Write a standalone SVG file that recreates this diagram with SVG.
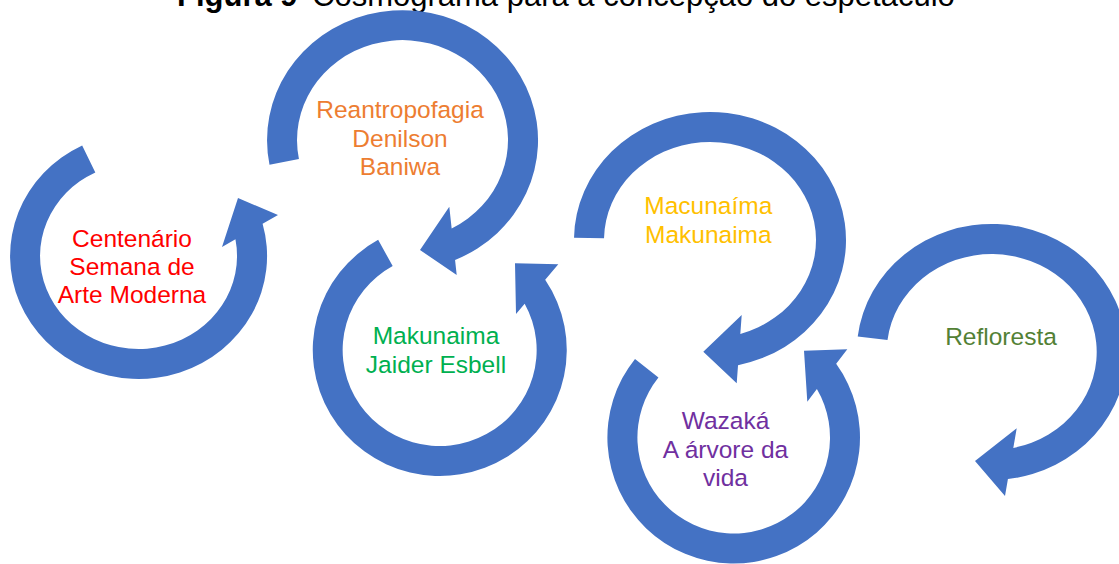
<svg xmlns="http://www.w3.org/2000/svg" width="1119" height="564" viewBox="0 0 1119 564">
<style>
.arr{fill:#4472C4;stroke:none}
.lbl{font-family:"Liberation Sans",Arial,sans-serif;font-size:24.5px;text-anchor:middle}
.ttl{font-family:"Liberation Sans",Arial,sans-serif;font-size:31px;fill:#000}
</style>
<rect width="1119" height="564" fill="#fff"/>
<g id="title">
<text class="ttl" x="177" y="5.5" font-weight="bold">Figura 9 –</text>
<text class="ttl" x="312" y="5.5">Cosmograma para a concepção do espetáculo</text>
</g>
<g id="node-centenario">
<path class="arr" d="M 82.17 145.45 A 128.5 123 0 1 0 262.6 223.8 L 278 215 L 238 198 L 222 247 L 235.44 239.32 A 98.5 93 0 1 1 95.32 172.41 Z"/>
<text class="lbl" fill="#FF0000"><tspan x="132" y="246.7">Centenário</tspan><tspan x="132" y="275">Semana de</tspan><tspan x="132" y="303.3">Arte Moderna</tspan></text>
</g>
<g id="node-reantropofagia">
<path class="arr" d="M 269.5 164.8 A 135.5 130 0 1 1 455.07 259.97 L 456.7 275 L 420 250 L 449.3 206.7 L 451.67 228.56 A 105.5 100 0 1 0 298.94 159.08 Z"/>
<text class="lbl" fill="#ED7D31"><tspan x="400" y="118.3">Reantropofagia</tspan><tspan x="400" y="146.7">Denilson</tspan><tspan x="400" y="175">Baniwa</tspan></text>
</g>
<g id="node-makunaima-jaider">
<path class="arr" d="M 378.13 239.8 A 127 126 0 1 0 545.19 279.71 L 558.3 264.3 L 515 263.3 L 516 314 L 524.67 303.81 A 97 96 0 1 1 392.67 266.04 Z"/>
<text class="lbl" fill="#00B050"><tspan x="436" y="344.3">Makunaima</tspan><tspan x="436" y="372.7">Jaider Esbell</tspan></text>
</g>
<g id="node-macunaima">
<path class="arr" d="M 574.02 237.8 A 136 128 0 1 1 738.03 365.2 L 736.7 383.3 L 703.3 351.7 L 741.7 315 L 740.32 333.92 A 106 98 0 1 0 604.02 238.3 Z"/>
<text class="lbl" fill="#FFC000"><tspan x="708.3" y="214.3">Macunaíma</tspan><tspan x="708.3" y="242.7">Makunaima</tspan></text>
</g>
<g id="node-wazaka">
<path class="arr" d="M 635.0 358.89 A 126.3 126 0 1 0 836.18 363.87 L 847.3 349.3 L 804 350.7 L 807.3 401.7 L 816.9 389.12 A 96.3 96 0 1 1 658.44 377.61 Z"/>
<text class="lbl" fill="#7030A0"><tspan x="725.5" y="429.3">Wazaká</tspan><tspan x="725.5" y="457.7">A árvore da</tspan><tspan x="725.5" y="486">vida</tspan></text>
</g>
<g id="node-refloresta">
<path class="arr" d="M 857.71 336.4 A 135 128 0 1 1 1007.93 479.08 L 1005 496 L 975 461 L 1016.7 428.3 L 1013.3 447.93 A 105 98 0 1 0 887.49 340.05 Z"/>
<text class="lbl" fill="#538135"><tspan x="1001" y="345">Refloresta</tspan></text>
</g>
<g id="connectors"></g>
</svg>
